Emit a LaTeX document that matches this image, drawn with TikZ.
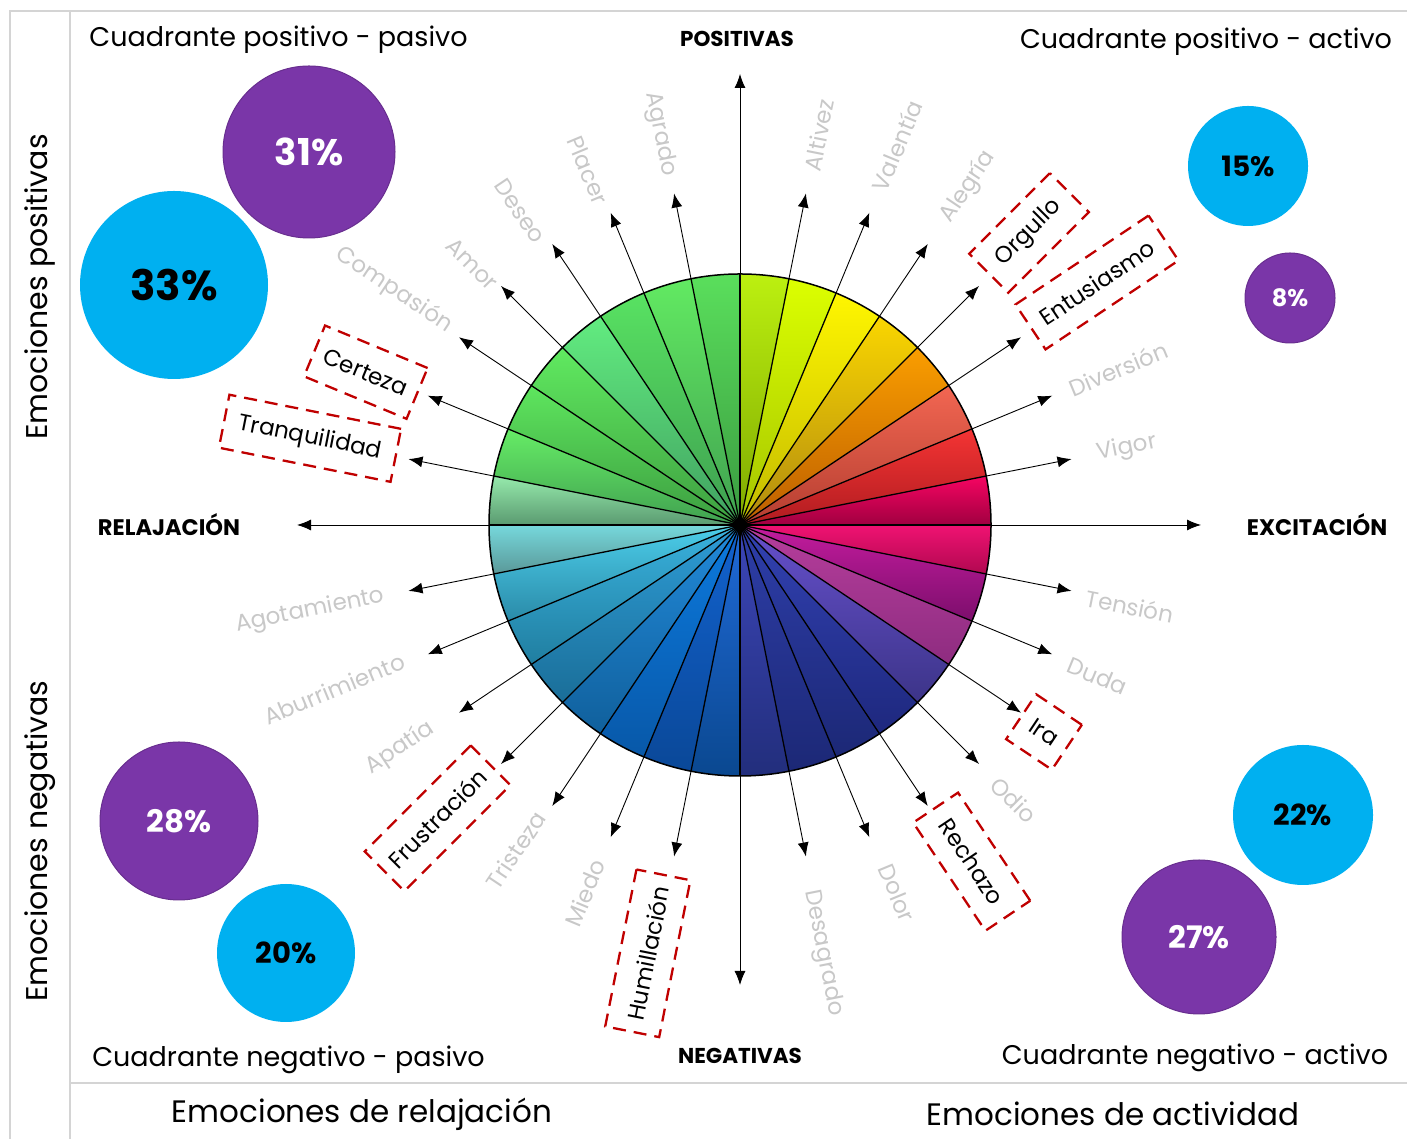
\documentclass[tikz,border=0pt]{standalone}
\usepackage{fontspec}
\setmainfont{Poppins}
\usetikzlibrary{arrows.meta,calc}
\definecolor{purp}{HTML}{7A36A8}
\definecolor{cblue}{HTML}{00B0F0}
\definecolor{lgray}{HTML}{C8C8C8}
\definecolor{framegray}{HTML}{D4D4D4}
\definecolor{boxred}{HTML}{C00000}
\begin{document}
\begin{tikzpicture}[x=1pt,y=1pt,
  arr/.style={line width=0.9pt, -{Latex[length=14pt,width=11pt]}},
  emo/.style={text=lgray, font=\fontsize{23}{23}\selectfont, inner sep=0pt},
  hl/.style={draw=boxred, line width=2.3pt, dash pattern=on 13pt off 8pt, text=black,
     font=\fontsize{23}{23}\selectfont, inner sep=0pt},
  quad/.style={font=\fontsize{27}{27}\selectfont, inner sep=0pt},
  axl/.style={font=\fontsize{22.5}{22.5}\selectfont\bfseries, inner sep=0pt},
  pc/.style={circle, inner sep=0pt, font=\bfseries},
  frameline/.style={draw=framegray, line width=2pt}
]
\useasboundingbox (0,0) rectangle (1407,1139);
\fill[white] (0,0) rectangle (1407,1139);

% frame
\coordinate (f1) at (10,1128);
\coordinate (f2) at (1407,1128);
\coordinate (f3) at (10,0);
\coordinate (f4) at (70,1128);
\coordinate (f5) at (70,0);
\coordinate (f6) at (70,56);
\coordinate (f7) at (1407,56);
\draw[frameline] (f3) -- (f1) -- (f2);
\draw[frameline] (f4) -- (f5);
\draw[frameline] (f6) -- (f7);

% headers
\node[quad] (qpp) at (278.5,1099) {Cuadrante positivo - pasivo};
\node[quad] (qpa) at (1206,1097) {Cuadrante positivo - activo};
\node[quad] (qnp) at (288.5,79) {Cuadrante negativo - pasivo};
\node[quad] (qna) at (1195,81) {Cuadrante negativo - activo};
\node[quad, font=\fontsize{31}{31}\selectfont] (erel) at (362,25) {Emociones de relajación};
\node[quad, font=\fontsize{31}{31}\selectfont] (eact) at (1113,25) {Emociones de actividad};
\node[quad, font=\fontsize{30}{30}\selectfont, rotate=90] (epos) at (40,852) {Emociones positivas};
\node[quad, font=\fontsize{30}{30}\selectfont, rotate=90] (eneg) at (40,298) {Emociones negativas};

% axis labels
\node[axl, font=\fontsize{21.5}{21.5}\selectfont\bfseries] (lpos) at (737,1100) {POSITIVAS};
\node[axl, font=\fontsize{21.5}{21.5}\selectfont\bfseries] (lneg) at (740,83) {NEGATIVAS};
\node[axl] (lrel) at (169,614) {RELAJACIÓN};
\node[axl] (lexc) at (1317,614) {EXCITACIÓN};

% wheel
\coordinate (C) at (740,614);
\foreach \k/\co/\ci in {
 0/F60462/A00040, 1/F43434/B01C20, 2/F26652/B43E30, 3/FA9E00/BC5E00,
 4/FAD600/B08A10, 5/FFF600/C2BA00, 6/DCFF00/A4C400, 7/BCF010/7EA800,
 8/5ADF5C/3A9A40, 9/62EA62/40A050, 10/58E262/3E9E50, 11/62EC80/40A060,
 12/60EA60/3E9E40, 13/5EE65E/3C9C40, 14/66EC66/40A050, 15/96EAAC/5A9A70,
 16/76D8DC/5A9898, 17/4CCEEA/2A8AA8, 18/3AB2DE/207EA0, 19/2E9CD6/1A6E98,
 20/228ADA/10609C, 21/0C7ADE/0858A8, 22/1262CE/0A4898, 23/206AD8/0A4890,
 24/3C46B8/222E7C, 25/2E3EA8/1C2876, 26/2E3EAA/1C2876, 27/3242B2/1E287E,
 28/6650CC/3C3488, 29/B63E9C/8E2C80, 30/C41C9E/7C0E6C, 31/F01272/B00850} {
  \definecolor{sOut}{HTML}{\co}
  \definecolor{sIn}{HTML}{\ci}
  \pgfmathsetmacro\aa{\k*11.25}
  \pgfmathsetmacro\ab{\aa+11.25}
  \shade[top color=sOut, bottom color=sIn]
    (C) -- ($(C)+(\aa:251)$) arc[start angle=\aa, end angle=\ab, radius=251] -- cycle;
}
\foreach \k in {0,...,31} {
  \draw[line width=1.3pt] (C) -- ($(C)+(\k*11.25:251)$);
}
\draw[line width=1.5pt] (C) circle (251);
\fill (C) circle (7);

% emotion arrows
\foreach \k in {1,...,7,9,10,...,15,17,18,...,23,25,26,...,31} {
  \coordinate (r\k) at ($(C)+(\k*11.25:251)$);
  \coordinate (t\k) at ($(C)+(\k*11.25:338)$);
  \draw[arr] (r\k) -- (t\k);
}
% axis arrows
\coordinate (r0) at ($(C)+(0:251)$);
\coordinate (r8) at ($(C)+(90:251)$);
\coordinate (r16) at ($(C)+(180:251)$);
\coordinate (r24) at ($(C)+(270:251)$);
\coordinate (ta0) at (1201,614);
\coordinate (ta8) at (740,1065);
\coordinate (ta16) at (297,614);
\coordinate (ta24) at (740,154);
\draw[arr] (r0) -- (ta0);
\draw[arr] (r8) -- (ta8);
\draw[arr] (r16) -- (ta16);
\draw[arr] (r24) -- (ta24);

% emotion labels
\node[emo, rotate=11.25] (e1) at (1127,691) {Vigor};
\node[emo, rotate=22.5] (e2) at (1118,770) {Diversión};
\node[hl, rotate=33.75, minimum width=160, minimum height=54] (e3) at (1097,856.5) {Entusiasmo};
\node[hl, rotate=45, minimum width=114, minimum height=55] (e4) at (1029,906) {Orgullo};
\node[emo, rotate=56.25] (e5) at (968,952) {Alegría};
\node[emo, rotate=67.5] (e6) at (897,993) {Valentía};
\node[emo, rotate=78.75] (e7) at (819,1004) {Altivez};

\node[emo, rotate=-78.75] (e9) at (660,1005) {Agrado};
\node[emo, rotate=-67.5] (e10) at (588,969) {Placer};
\node[emo, rotate=-56.25] (e11) at (520,928) {Deseo};
\node[emo, rotate=-45] (e12) at (472,875) {Amor};
\node[emo, rotate=-33.75] (e13) at (394,849) {Compasión};
\node[hl, rotate=-22.5, minimum width=111, minimum height=55] (e14) at (365.8,766.8) {Certeza};
\node[hl, rotate=-11.25, minimum width=175, minimum height=54] (e15) at (310,700.7) {Tranquilidad};

\node[emo, rotate=11.25] (e17) at (310,528) {Agotamiento};
\node[emo, rotate=22.5] (e18) at (334,450) {Aburrimiento};
\node[emo, rotate=33.75] (e19) at (400,391) {Apatía};
\node[hl, rotate=45, minimum width=150, minimum height=56] (e20) at (437.5,320.7) {Frustración};
\node[emo, rotate=56.25] (e21) at (516,289) {Tristeza};
\node[emo, rotate=67.5] (e22) at (585,246) {Miedo};
\node[hl, rotate=78.75, minimum width=160, minimum height=55] (e23) at (647.8,185.7) {Humillación};

\node[emo, rotate=-78.75] (e25) at (823,186) {Desagrado};
\node[emo, rotate=-67.5] (e26) at (897,246) {Dolor};
\node[hl, rotate=-56.25, minimum width=130, minimum height=54] (e27) at (971.7,277.3) {Rechazo};
\node[emo, rotate=-45] (e28) at (1014,339) {Odio};
\node[hl, rotate=-33.75, minimum width=55, minimum height=54] (e29) at (1044,407) {Ira};
\node[emo, rotate=-22.5] (e30) at (1097.5,463) {Duda};
\node[emo, rotate=-11.25] (e31) at (1130,533) {Tensión};

% percentage circles
\node[pc, fill=purp, draw=purp!85!black, line width=1pt, minimum size=172, text=white,
  font=\fontsize{37}{37}\selectfont\bfseries] (c31) at (309,987) {31\%};
\node[pc, fill=cblue, minimum size=188, text=black,
  font=\fontsize{42}{42}\selectfont\bfseries] (c33) at (174,854) {33\%};
\node[pc, fill=cblue, minimum size=120, text=black,
  font=\fontsize{28}{28}\selectfont\bfseries] (c15) at (1248,973) {15\%};
\node[pc, fill=purp, draw=purp!85!black, line width=1pt, minimum size=90, text=white,
  font=\fontsize{24}{24}\selectfont\bfseries] (c8) at (1290,841) {8\%};
\node[pc, fill=purp, draw=purp!85!black, line width=1pt, minimum size=158, text=white,
  font=\fontsize{31}{31}\selectfont\bfseries] (c28) at (179,318) {28\%};
\node[pc, fill=cblue, minimum size=138, text=black,
  font=\fontsize{29}{29}\selectfont\bfseries] (c20) at (286,186) {20\%};
\node[pc, fill=cblue, minimum size=140, text=black,
  font=\fontsize{29}{29}\selectfont\bfseries] (c22) at (1303,324) {22\%};
\node[pc, fill=purp, draw=purp!85!black, line width=1pt, minimum size=154, text=white,
  font=\fontsize{31}{31}\selectfont\bfseries] (c27) at (1199,202) {27\%};
\end{tikzpicture}
\end{document}
